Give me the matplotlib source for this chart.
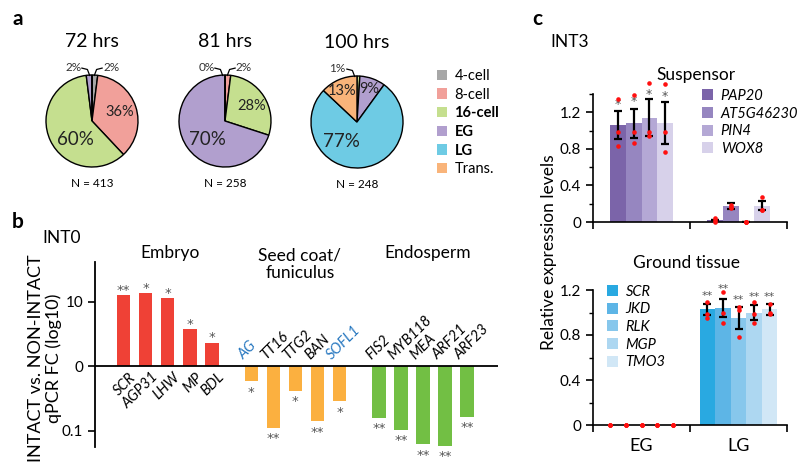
import numpy as np
import matplotlib
matplotlib.use('Agg')
import matplotlib.pyplot as plt
from matplotlib.patches import Patch

plt.rcParams['font.family'] = ['Lato', 'DejaVu Sans']

W, H = 800, 469

# ---- panel a data (percent of embryos per stage) ----
stages = ['4-cell', '8-cell', '16-cell', 'EG', 'LG', 'Trans.']
stage_colors = ['#a7a7a7', '#f1a09a', '#c5df8f', '#b19fce', '#6ecbe4', '#f9b47a']
pie_titles = ['72 hrs', '81 hrs', '100 hrs']
pie_n = [413, 258, 248]
pie_72 = [2, 36, 60, 2, 0, 0]
pie_81 = [0, 2, 28, 70, 0, 0]
pie_100 = [0, 0, 1, 9, 77, 13]

# ---- panel b data (log10 fold change INTACT vs NON-INTACT) ----
embryo_genes = ['SCR', 'AGP31', 'LHW', 'MP', 'BDL']
embryo_fc = [1.10, 1.13, 1.05, 0.57, 0.36]
embryo_sig = ['**', '*', '*', '*', '*']
seed_genes = ['AG', 'TT16', 'TTG2', 'BAN', 'SOFL1']
seed_fc = [-0.23, -0.95, -0.38, -0.85, -0.54]
seed_sig = ['*', '**', '*', '**', '*']
endo_genes = ['FIS2', 'MYB118', 'MEA', 'ARF21', 'ARF23']
endo_fc = [-0.80, -0.98, -1.21, -1.23, -0.78]
endo_sig = ['**', '**', '**', '**', '**']
blue_genes = ['AG', 'SOFL1']

# ---- panel c data (relative expression) ----
stage_groups = ['EG', 'LG']
susp_genes = ['PAP20', 'AT5G46230', 'PIN4', 'WOX8']
susp_colors = ['#7b64a9', '#9686c0', '#b4a8d5', '#d7d1ea']
susp_eg = [1.06, 1.08, 1.14, 1.08]
susp_eg_err = [0.15, 0.16, 0.20, 0.23]
susp_eg_pts = [[1.35, 0.98, 0.83], [1.39, 0.98, 0.86], [1.52, 0.98, 0.94], [1.51, 0.98, 0.77]]
susp_eg_star = [1.32, 1.35, 1.43, 1.41]
susp_lg = [0.02, 0.175, 0.004, 0.18]
susp_lg_err = [0.0, 0.03, 0.0, 0.05]
susp_lg_pts = [[0.04, 0.02, 0.0], [0.19, 0.16, 0.15], [0.005, 0.0, 0.0], [0.27, 0.13, 0.13]]

gt_genes = ['SCR', 'JKD', 'RLK', 'MGP', 'TMO3']
gt_colors = ['#29a9e1', '#5db5e6', '#87c7ec', '#add7f1', '#d1e7f6']
gt_eg = [0, 0, 0, 0, 0]
gt_eg_pts = [[0, 0, 0]] * 5
gt_lg = [1.03, 1.04, 0.95, 1.00, 1.03]
gt_lg_err = [0.05, 0.08, 0.095, 0.07, 0.05]
gt_lg_pts = [[1.09, 0.99, 0.95], [1.18, 1.00, 0.91], [1.05, 1.02, 0.78], [1.09, 0.99, 0.91], [1.08, 1.00, 0.99]]
gt_lg_star = [1.18, 1.24, 1.14, 1.17, 1.17]

STAR = dict(family='DejaVu Sans', color='#555555', ha='center', va='center', clip_on=False)


def box(x0, y0, x1, y1):
    return [x0 / W, 1 - y1 / H, (x1 - x0) / W, (y1 - y0) / H]


fig = plt.figure(figsize=(W / 100, H / 100), dpi=100)

# panel letters
for lab, (x, y) in zip('abc', [(18, 19), (18, 222), (537, 19)]):
    fig.text(x / W, 1 - y / H, lab, fontsize=15, fontweight='bold', ha='center', va='center')

# ================= panel a: pies =================
pie_sets = [pie_72, pie_81, pie_100]
centers = [(92, 121), (225, 121), (357, 122)]
inside = [
    [('36%', 0.61, 0.2, 10.5), ('60%', -0.37, -0.41, 13.5)],
    [('28%', 0.57, 0.33, 10.5), ('70%', -0.39, -0.41, 13.5)],
    [('13%', -0.33, 0.67, 10.5), ('9%', 0.26, 0.72, 10.5), ('77%', -0.33, -0.43, 13.5)],
]
outside = [
    [('2%', -0.40, 1.17, -1), ('2%', 0.42, 1.17, 1)],
    [('0%', -0.40, 1.17, -1), ('2%', 0.40, 1.17, 1)],
    [('1%', -0.42, 1.17, -1)],
]
r = 46
for vals, (cx, cy), title, n, ins, outs in zip(pie_sets, centers, pie_titles, pie_n, inside, outside):
    ax = fig.add_axes(box(cx - r, cy - r, cx + r, cy + r))
    ax.pie(vals, colors=stage_colors, startangle=90, counterclock=False,
           wedgeprops=dict(edgecolor='black', linewidth=1.0))
    ax.set_xlim(-1, 1)
    ax.set_ylim(-1, 1)
    ax.axis('off')
    ax.text(0, 1.72, title, ha='center', va='center', fontsize=14, clip_on=False)
    ax.text(0, -1.36, 'N = %d' % n, ha='center', va='center', fontsize=8.5, clip_on=False)
    for t, x, y, fs in ins:
        ax.text(x, y, t, ha='center', va='center', fontsize=fs, color='#222222')
    for t, x, y, side in outs:
        ax.text(x, y, t, ha='center', va='center', fontsize=8.5, color='#333333', clip_on=False)
        ax.plot([side * 0.22, side * 0.10, side * 0.05], [1.15, 1.12, 0.99],
                color='black', lw=0.9, clip_on=False)

handles = [Patch(facecolor=c, edgecolor='none') for c in stage_colors]
leg = fig.legend(handles, stages, loc='upper left', bbox_to_anchor=(437 / W, 1 - 69 / H),
                 frameon=False, fontsize=10.5, handlelength=0.7, handleheight=0.7,
                 handletextpad=0.5, labelspacing=0.32, borderpad=0, borderaxespad=0)
for t in leg.get_texts():
    if t.get_text() in ['16-cell', 'EG', 'LG']:
        t.set_fontweight('bold')

# ================= panel b: INT0 bar chart =================
axb = fig.add_axes(box(95, 262, 498, 447))
x_emb = np.arange(5)
x_seed = np.arange(5) + 5.8
x_endo = np.arange(5) + 11.6
bw = 0.62
axb.bar(x_emb, embryo_fc, bw, color='#ef4136')
axb.bar(x_seed, seed_fc, bw, color='#fbb040')
axb.bar(x_endo, endo_fc, bw, color='#72bf44')
axb.axhline(0, color='black', lw=1.3)
axb.set_xlim(-1.3, 17.0)
axb.set_ylim(-1.25, 1.615)
for s in ['top', 'right', 'bottom']:
    axb.spines[s].set_visible(False)
axb.spines['left'].set_linewidth(1.3)
axb.set_xticks([])
axb.set_yticks([-1, 0, 1])
axb.set_yticklabels(['0.1', '0', '10'], fontsize=11)
axb.tick_params(axis='y', length=5, width=1.2)

# up-regulated genes: stars above, names below the zero line
for x, v, g, s in zip(x_emb, embryo_fc, embryo_genes, embryo_sig):
    axb.text(x, v + 0.08, s, fontsize=9.5, **STAR)
    axb.text(x + 0.25, -0.06, g, ha='right', va='top', rotation=45,
             rotation_mode='anchor', fontsize=10.5, style='italic')
# down-regulated genes: stars below, names above the zero line
for xs, vals, genes, sigs in [(x_seed, seed_fc, seed_genes, seed_sig),
                              (x_endo, endo_fc, endo_genes, endo_sig)]:
    for x, v, g, s in zip(xs, vals, genes, sigs):
        axb.text(x, v - 0.17, s, fontsize=9.5, **STAR)
        col = '#2878c0' if g in blue_genes else 'black'
        axb.text(x - 0.25, 0.06, g, ha='left', va='bottom', rotation=45,
                 rotation_mode='anchor', fontsize=10.5, style='italic', color=col)

axb.text(2.1, 1.75, 'Embryo', ha='center', va='center', fontsize=12.5, clip_on=False)
axb.text(8.0, 1.58, 'Seed coat/\nfuniculus', ha='center', va='center', fontsize=12.5,
         linespacing=1.1, clip_on=False)
axb.text(13.8, 1.75, 'Endosperm', ha='center', va='center', fontsize=12.5, clip_on=False)
fig.text(62 / W, 1 - 238 / H, 'INT0', ha='center', va='center', fontsize=12.5)
fig.text(45 / W, 1 - 358 / H, 'INTACT vs. NON-INTACT\nqPCR FC (log10)', rotation=90,
         ha='center', va='center', fontsize=13, multialignment='center', linespacing=1.05)

# ================= panel c: INT3 =================
def style_c(ax, top):
    for s in ['top', 'right']:
        ax.spines[s].set_visible(False)
    ax.spines['left'].set_linewidth(1.2)
    ax.spines['bottom'].set_linewidth(1.2)
    ax.set_xlim(-0.5, 1.5)
    ax.set_ylim(0, top)
    ax.set_yticks([0, 0.4, 0.8, 1.2])
    ax.set_yticklabels(['0', '0.4', '0.8', '1.2'], fontsize=11)
    ax.set_yticks(np.arange(0.2, top + 0.01, 0.4), minor=True)
    ax.set_xticks([-0.5, 0.5, 1.5])
    ax.set_xticklabels([])
    ax.tick_params(axis='both', which='major', length=5, width=1.2)
    ax.tick_params(axis='y', which='minor', length=3, width=1.0)


bwc = 0.16
ax_s = fig.add_axes(box(593, 94, 787, 222))
style_c(ax_s, 1.4)
for i, (g, c) in enumerate(zip(susp_genes, susp_colors)):
    off = (i - 1.5) * bwc
    ax_s.bar([0 + off, 1 + off], [susp_eg[i], susp_lg[i]], bwc, color=c, label=g)
for i in range(4):
    off = (i - 1.5) * bwc
    ax_s.errorbar([0 + off, 1 + off], [susp_eg[i], susp_lg[i]],
                  yerr=[susp_eg_err[i], susp_lg_err[i]], fmt='none', ecolor='black',
                  elinewidth=1.6, capsize=3, capthick=1.6, zorder=4)
    ax_s.text(off, susp_eg_star[i] - 0.035, '*', fontsize=9, zorder=4, **STAR)
    ax_s.plot([off] * 3, susp_eg_pts[i], 'o', color='#ff1010', ms=3.3, mew=0,
              zorder=5, clip_on=False)
    ax_s.plot([1 + off] * 3, susp_lg_pts[i], 'o', color='#ff1010', ms=3.3, mew=0,
              zorder=5, clip_on=False)
ax_s.legend(loc='upper left', bbox_to_anchor=(0.56, 1.04), frameon=False,
            handlelength=0.8, handleheight=0.8, handletextpad=0.5,
            labelspacing=0.25, borderpad=0, borderaxespad=0,
            prop={'size': 10.5, 'style': 'italic'})
ax_s.text(0.53, 1.15, 'Suspensor', transform=ax_s.transAxes, ha='center', va='center',
          fontsize=12.5)
fig.text(570 / W, 1 - 42 / H, 'INT3', ha='center', va='center', fontsize=12.5)

ax_g = fig.add_axes(box(593, 290, 787, 425))
style_c(ax_g, 1.2)
for i, (g, c) in enumerate(zip(gt_genes, gt_colors)):
    off = (i - 2) * bwc
    ax_g.bar([0 + off, 1 + off], [gt_eg[i], gt_lg[i]], bwc, color=c, label=g)
for i in range(5):
    off = (i - 2) * bwc
    ax_g.errorbar([1 + off], [gt_lg[i]], yerr=[gt_lg_err[i]], fmt='none', ecolor='black',
                  elinewidth=1.6, capsize=3, capthick=1.6, zorder=4)
    ax_g.text(1 + off, gt_lg_star[i] - 0.03, '**', fontsize=8, zorder=4, **STAR)
    ax_g.plot([off] * 3, gt_eg_pts[i], 'o', color='#ff1010', ms=3.3, mew=0,
              zorder=5, clip_on=False)
    ax_g.plot([1 + off] * 3, gt_lg_pts[i], 'o', color='#ff1010', ms=3.3, mew=0,
              zorder=5, clip_on=False)
ax_g.set_xticks([0, 1], minor=True)
ax_g.set_xticklabels(stage_groups, minor=True, fontsize=13)
ax_g.tick_params(axis='x', which='minor', length=0, pad=9)
ax_g.legend(loc='upper left', bbox_to_anchor=(0.07, 1.04), frameon=False,
            handlelength=0.8, handleheight=0.8, handletextpad=0.5,
            labelspacing=0.25, borderpad=0, borderaxespad=0,
            prop={'size': 10.5, 'style': 'italic'})
ax_g.text(0.48, 1.2, 'Ground tissue', transform=ax_g.transAxes, ha='center', va='center',
          fontsize=12.5)
fig.text(549 / W, 1 - 252 / H, 'Relative expression levels', rotation=90,
         ha='center', va='center', fontsize=12.5)

fig.savefig('out.png', dpi=100)
